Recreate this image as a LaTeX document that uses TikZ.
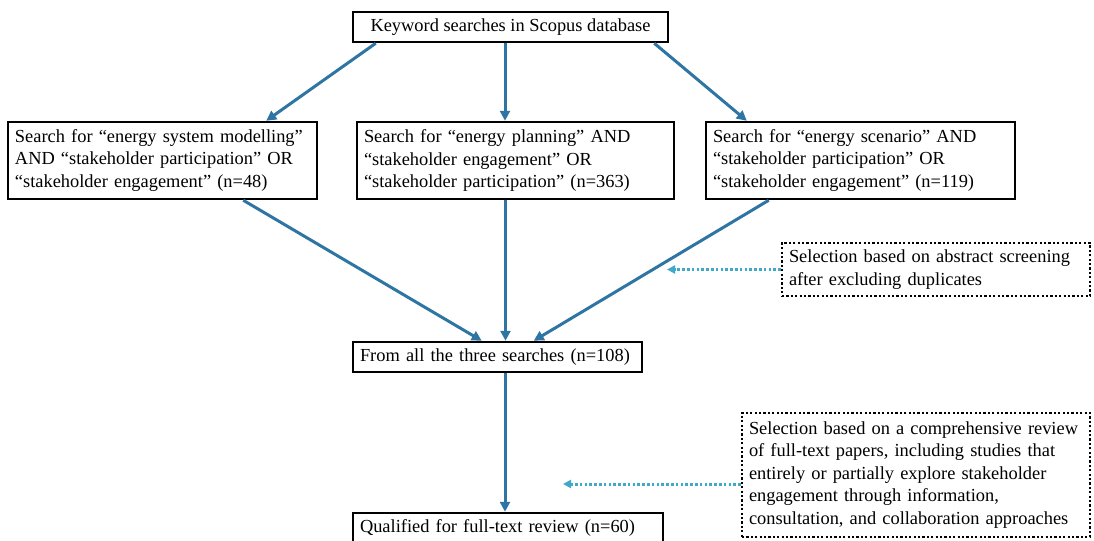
\documentclass[tikz,border=0pt]{standalone}
\usepackage{fontspec}
\setmainfont{Liberation Serif}
\usetikzlibrary{arrows.meta}
\definecolor{flowblue}{RGB}{46,117,163}
\definecolor{hintblue}{RGB}{64,168,200}
\newcommand{\boxfont}{\fontsize{9.2}{11.25}\selectfont\hyphenpenalty=10000\relax}
\begin{document}
\begin{tikzpicture}[x=0.5pt,y=-0.5pt,
  box/.style={draw,line width=1.25pt,inner xsep=3.5pt,inner ysep=2pt,align=left,
    font=\boxfont},
  note/.style={box,dash pattern=on 1.1pt off 1.1pt},
  flow/.style={draw=flowblue,line width=1.5pt,-{Triangle[length=5pt,width=5pt]}},
  hint/.style={draw=hintblue,line width=1.5pt,dash pattern=on 1.3pt off 1.1pt,
    -{Triangle[length=4pt,width=4pt]}}]
\clip (0,0) rectangle (1094,541);
\useasboundingbox (0,0) rectangle (1094,541);
\node[box,align=center,minimum width=157.5pt,minimum height=15pt] (top) at (510.5,27) {Keyword searches in Scopus database};
\node[box,text width=147.5pt,minimum height=38.5pt] (left) at (162.5,160.5) {Search for “energy system modelling”\\AND “stakeholder participation” OR\\“stakeholder engagement” (n=48)};
\node[box,text width=151.5pt,minimum height=38.5pt] (mid) at (515.5,160.5) {Search for “energy planning” AND\\“stakeholder engagement” OR\\“stakeholder participation” (n=363)};
\node[box,text width=147.5pt,minimum height=38.5pt] (right) at (860.5,160.5) {Search for “energy scenario” AND\\“stakeholder participation” OR\\“stakeholder engagement” (n=119)};
\node[note,text width=147pt,minimum height=26.5pt] (sel1) at (936,269.5) {Selection based on abstract screening\\after excluding duplicates};
\node[box,text width=137.5pt,minimum height=15pt] (all) at (497.5,357) {From all the three searches (n=108)};
\node[note,text width=167pt,minimum height=62pt] (sel2) at (916,475) {Selection based on a comprehensive review\\of full-text papers, including studies that\\entirely or partially explore stakeholder\\engagement through information,\\consultation, and collaboration approaches};
\node[box,text width=148pt,minimum height=15pt] (qual) at (508,528) {Qualified for full-text review (n=60)};
\coordinate (tip1) at (667,269.5);
\coordinate (tip2) at (563,484);
\draw[flow] ([xshift=12pt]top.south west) -- ([xshift=-26pt]left.north east);
\draw[flow] ([xshift=-2.75pt]top.south) -- ([xshift=-2.75pt]top.south |- mid.north);
\draw[flow] ([xshift=-7.5pt]top.south east) -- ([xshift=21pt]right.north west);
\draw[flow] ([xshift=-37.5pt]left.south east) -- ([xshift=65pt]all.north west);
\draw[flow] ([xshift=-5pt]mid.south) -- ([xshift=-5pt]mid.south |- all.north);
\draw[flow] ([xshift=32pt]right.south west) -- ([xshift=91pt]all.north west);
\draw[flow] ([xshift=3.75pt]all.south) -- ([xshift=3.75pt]all.south |- qual.north);
\draw[hint] (sel1.west) -- (tip1);
\draw[hint] ([yshift=-4.5pt]sel2.west) -- (tip2);
\end{tikzpicture}
\end{document}
